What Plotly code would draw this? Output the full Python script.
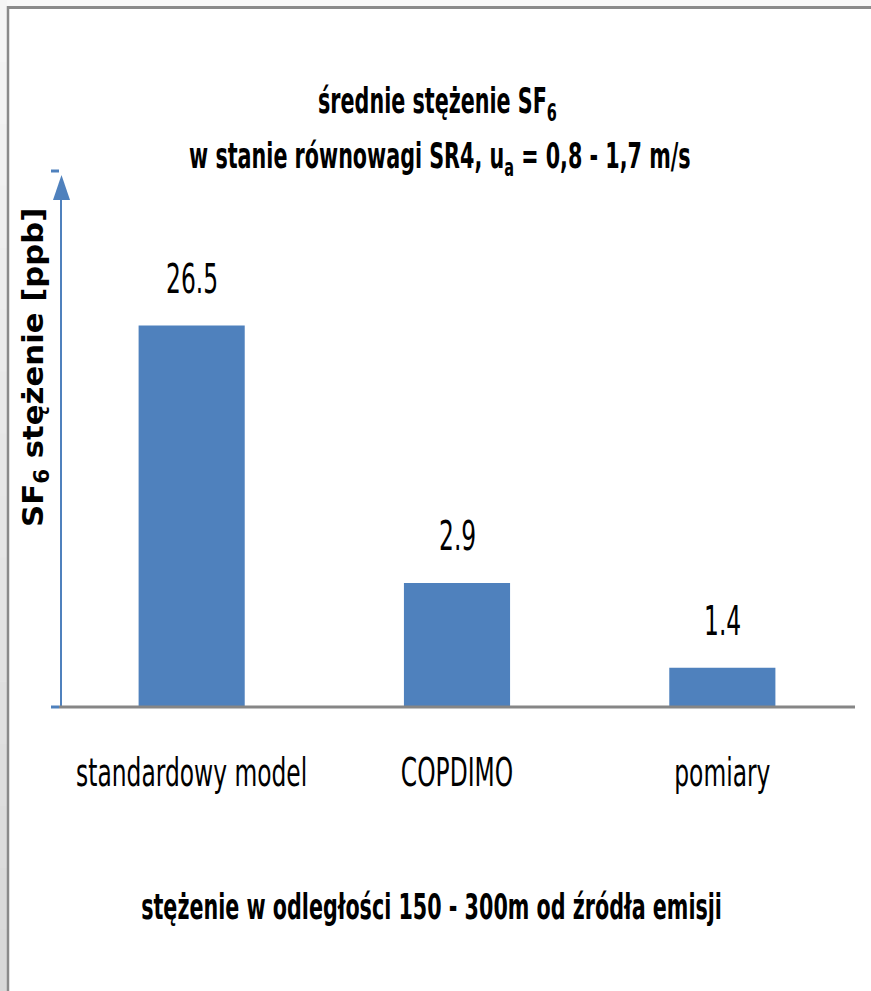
import math
import plotly.graph_objects as go

# --- data -------------------------------------------------------------
categories = ["standardowy model", "COPDIMO", "pomiary"]
concentration_ppb = [26.5, 2.9, 1.4]
value_labels = ["26.5", "2.9", "1.4"]

title_lines = [
    "średnie stężenie SF<sub>6</sub>",
    "w stanie równowagi SR4, u<sub>a</sub> = 0,8 - 1,7 m/s",
]
x_title = "stężenie w odległości 150 - 300m od źródła emisji"
y_title = "SF<sub>6</sub> stężenie [ppb]"

# --- geometry of the figure (pixels) ------------------------------------
FIG_W, FIG_H = 871, 991
L, T, W, H = 59, 171, 796, 536
BOTTOM = T + H

BAR_BLUE = "#4f81bd"
AXIS_BLUE = "#4f81bd"
AXIS_GREY = "#868686"
NARROW = "DejaVu Sans Condensed, Liberation Sans, sans-serif"


def px_x(X):
    return (X - L) / W


def px_y(Y):
    return (BOTTOM - Y) / H


fig = go.Figure()
fig.add_trace(
    go.Bar(
        x=categories,
        y=concentration_ppb,
        width=0.4,
        marker=dict(color=BAR_BLUE, line=dict(width=0)),
        hoverinfo="x+y",
    )
)

annotations = [
    dict(text=title_lines[0], x=px_x(437), y=1, yshift=T - 104,
         font=dict(size=23, family=NARROW, color="black", weight="bold")),
    dict(text=title_lines[1], x=px_x(440), y=1, yshift=T - 159,
         font=dict(size=23, family=NARROW, color="black", weight="bold")),
]
for cat, val, lab in zip(categories, concentration_ppb, value_labels):
    annotations.append(
        dict(text=lab, x=cat, y=math.log10(val), xref="x", yref="y", yshift=47,
             font=dict(size=26, family=NARROW, color="black"))
    )
annotations.append(
    dict(text=x_title, x=px_x(431), y=0, yshift=BOTTOM - 907,
         font=dict(size=23, family=NARROW, color="black", weight="bold"))
)
annotations.append(
    dict(text=y_title, x=px_x(35), y=px_y(368), textangle=-90,
         font=dict(size=29, family="DejaVu Sans", color="black", weight="bold"))
)
for a in annotations:
    a.setdefault("xref", "paper")
    a.setdefault("yref", "paper")
    a.update(showarrow=False, xanchor="center", yanchor="middle")

# per-annotation glyph stretch [along text, across text], same order as above
stretch = [[1, 1.55], [1, 1.55], [1, 1.55], [1, 1.55], [1, 1.55], [1, 1.55], [1.06, 1]]
tick_stretch = 1.5

shapes = []
# page backdrop outside the chart frame (soft vertical grey ramp)
n_bands = 16
band = FIG_H / n_bands
for i in range(n_bands):
    v = int(round(0xf5 - (0xf5 - 0xd8) * i / (n_bands - 1)))
    shapes.append(dict(type="rect", xref="paper", yref="paper", layer="below",
                       x0=px_x(0), x1=px_x(7), y0=px_y(i * band), y1=px_y((i + 1) * band + 0.5),
                       fillcolor=f"rgb({v},{v},{v})", line=dict(width=0)))
shapes.append(dict(type="rect", xref="paper", yref="paper", layer="below",
                   x0=px_x(7), x1=px_x(FIG_W), y0=px_y(0), y1=px_y(6),
                   fillcolor="#f8f8f8", line=dict(width=0)))
# chart frame (top and left edges)
shapes.append(dict(type="line", xref="paper", yref="paper",
                   x0=px_x(7), x1=px_x(FIG_W), y0=px_y(7.5), y1=px_y(7.5),
                   line=dict(color="#8a8a8a", width=3)))
shapes.append(dict(type="line", xref="paper", yref="paper",
                   x0=px_x(8), x1=px_x(8), y0=px_y(6), y1=px_y(FIG_H),
                   line=dict(color="#8a8a8a", width=2.5)))
# value axis with arrow head
shapes.append(dict(type="line", xref="paper", yref="paper",
                   x0=px_x(61), x1=px_x(61), y0=0, y1=px_y(198),
                   line=dict(color=AXIS_BLUE, width=2)))
shapes.append(dict(type="path", xref="paper", yref="paper",
                   path=f"M {px_x(53)},{px_y(200)} L {px_x(61.5)},{px_y(175)} L {px_x(70)},{px_y(200)} Z",
                   fillcolor=AXIS_BLUE, line=dict(width=0)))
for yy in (1, 0):
    shapes.append(dict(type="line", xref="paper", yref="paper",
                       x0=px_x(51), x1=px_x(59), y0=yy, y1=yy,
                       line=dict(color=AXIS_BLUE, width=3)))
# category axis line
shapes.append(dict(type="line", xref="paper", yref="paper",
                   x0=0, x1=1, y0=0, y1=0,
                   line=dict(color=AXIS_GREY, width=3)))

fig.update_layout(
    width=FIG_W,
    height=FIG_H,
    margin=dict(l=L, r=FIG_W - L - W, t=T, b=FIG_H - BOTTOM, pad=0),
    paper_bgcolor="white",
    plot_bgcolor="white",
    showlegend=False,
    annotations=annotations,
    shapes=shapes,
    xaxis=dict(
        type="category",
        range=[-0.5, 2.5],
        showline=False,
        showgrid=False,
        zeroline=False,
        ticks="",
        ticklabelstandoff=48,
        tickfont=dict(size=26, family=NARROW, color="black"),
        fixedrange=True,
    ),
    yaxis=dict(
        type="log",
        range=[0, 2],
        showline=False,
        showgrid=False,
        zeroline=False,
        showticklabels=False,
        ticks="",
        fixedrange=True,
    ),
)

# Stretch the condensed glyphs about their own centre once the plot is drawn.
post_script = """
var gd = document.getElementById('{plot_id}');
var stretch = %s;
var tickStretch = %s;
function stretchText(t, sx, sy) {
  var b = t.getBBox();
  var cx = b.x + b.width / 2, cy = b.y + b.height / 2;
  var tr = t.getAttribute('transform') || '';
  t.setAttribute('transform', tr + ' translate(' + cx + ' ' + cy + ') scale(' + sx + ' ' + sy +
                 ') translate(' + (-cx) + ' ' + (-cy) + ')');
}
gd.querySelectorAll('g.annotation').forEach(function (g) {
  var i = +g.getAttribute('data-index');
  var s = stretch[i];
  var t = g.querySelector('text.annotation-text');
  if (t && s) stretchText(t, s[0], s[1]);
});
gd.querySelectorAll('g.xtick text').forEach(function (t) { stretchText(t, 1, tickStretch); });
""" % (str(stretch), str(tick_stretch))

fig.write_html("out.html", config={"displayModeBar": False}, post_script=post_script)
